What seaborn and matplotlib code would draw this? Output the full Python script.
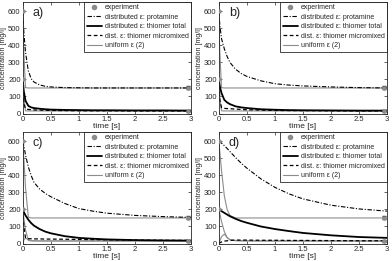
import numpy as np
import pandas as pd
import matplotlib
matplotlib.use("Agg")
import matplotlib.pyplot as plt
from matplotlib.lines import Line2D
import seaborn as sns

# common time grid [s]
t = [0, 0.02, 0.05, 0.1, 0.15, 0.2, 0.3, 0.4, 0.5, 0.75, 1.0, 1.25, 1.5, 2.0, 2.5, 3.0]

# panel a)
prot_a = [600, 480, 360, 250, 205, 185, 168, 160, 156, 152, 151, 150, 150, 150, 150, 150]
total_a = [200, 130, 75, 45, 36, 32, 28, 25, 23, 21, 20, 19, 19, 18, 18, 17]
micro_a = [200, 60, 28, 24, 22, 21, 20, 19, 18, 17, 16, 16, 16, 15, 15, 15]
unif_p_a = [600, 360, 152, 150, 150, 150, 150, 150, 150, 150, 150, 150, 150, 150, 150, 150]
unif_t_a = [200, 90, 16, 15, 15, 15, 15, 15, 15, 15, 15, 15, 15, 15, 15, 15]

# panel b)
prot_b = [600, 520, 440, 380, 335, 300, 260, 235, 218, 192, 175, 167, 162, 156, 152, 150]
total_b = [200, 160, 120, 80, 65, 55, 42, 36, 32, 25, 22, 20, 19, 18, 17, 17]
micro_b = [200, 80, 35, 30, 29, 28, 26, 24, 22, 20, 18, 17, 17, 16, 15, 15]
unif_p_b = unif_p_a
unif_t_b = unif_t_a

# panel c)
prot_c = [600, 575, 520, 450, 400, 360, 320, 295, 275, 235, 205, 190, 178, 165, 158, 153]
total_c = [200, 185, 165, 140, 120, 105, 85, 70, 60, 43, 33, 28, 24, 20, 18, 17]
micro_c = [200, 100, 32, 28, 28, 27, 27, 26, 26, 25, 24, 23, 22, 20, 19, 18]
unif_p_c = [600, 500, 330, 155, 150, 150, 150, 150, 150, 150, 150, 150, 150, 150, 150, 150]
unif_t_c = [200, 150, 80, 18, 15, 15, 15, 15, 15, 15, 15, 15, 15, 15, 15, 15]
unif_b_c = [0, 20, 32, 22, 18, 16, 15, 15, 15, 15, 15, 15, 15, 15, 15, 15]

# panel d)
prot_d = [600, 597, 590, 575, 558, 540, 505, 472, 443, 380, 330, 292, 262, 225, 203, 190]
total_d = [200, 196, 190, 180, 170, 160, 145, 132, 122, 100, 85, 73, 62, 48, 38, 33]
micro_d = [0, 4, 9, 14, 16, 18, 20, 20, 20, 19, 19, 18, 18, 17, 16, 16]
unif_p_d = [600, 540, 430, 280, 200, 165, 150, 150, 150, 150, 150, 150, 150, 150, 150, 150]
unif_t_d = [200, 175, 130, 70, 35, 22, 16, 15, 15, 15, 15, 15, 15, 15, 15, 15]
unif_b_d = [0, 15, 40, 55, 35, 22, 18, 17, 16, 15, 15, 15, 15, 15, 15, 15]

# experiment
exp_t0 = [0, 0]
exp_c0 = [600, 200]
exp_t1 = [2.95, 2.95]
exp_c1 = [150, 15]
exp_err = [9, 6]

panels = [
    ("a)", prot_a, total_a, micro_a, [unif_p_a, unif_t_a]),
    ("b)", prot_b, total_b, micro_b, [unif_p_b, unif_t_b]),
    ("c)", prot_c, total_c, micro_c, [unif_p_c, unif_t_c, unif_b_c]),
    ("d)", prot_d, total_d, micro_d, [unif_p_d, unif_t_d, unif_b_d]),
]

sns.set_style("ticks")
plt.rcParams['font.family'] = ['Liberation Sans', 'DejaVu Sans']
plt.rcParams['xtick.direction'] = 'in'
plt.rcParams['ytick.direction'] = 'in'
plt.rcParams['xtick.top'] = True
plt.rcParams['ytick.right'] = True

fig = plt.figure(figsize=(3.92, 2.61), dpi=100)

W, H = 392, 261
boxes = [(22.7, 2), (218.7, 2), (22.7, 132), (218.7, 132)]
aw, ah = 168.5, 111.5

gray = "#8c8c8c"
dashdot = (0, (4, 1.5, 1, 1.5))

for (lab, prot, total, micro, unifs), (x0, y0) in zip(panels, boxes):
    ax = fig.add_axes([x0 / W, 1 - (y0 + ah) / H, aw / W, ah / H])
    for u in unifs:
        sns.lineplot(x=t, y=u, ax=ax, color=gray, lw=0.8)
    sns.lineplot(x=t, y=micro, ax=ax, color="black", lw=0.9, linestyle=(0, (3, 2)))
    sns.lineplot(x=t, y=total, ax=ax, color="black", lw=1.3)
    sns.lineplot(x=t, y=prot, ax=ax, color="black", lw=0.8, linestyle=dashdot)
    sns.scatterplot(x=exp_t0, y=exp_c0, ax=ax, color=gray, s=8, edgecolor=gray, zorder=5)
    ax.errorbar(exp_t1, exp_c1, yerr=exp_err, fmt="o", ms=2.2, color=gray, mec=gray,
                ecolor="#333333", elinewidth=0.8, capsize=1.5, zorder=5)
    ax.set_xlim(0, 3)
    ax.set_ylim(0, 655)
    ax.set_xticks([0, 0.5, 1, 1.5, 2, 2.5, 3])
    ax.set_xticklabels(["0", "0.5", "1", "1.5", "2", "2.5", "3"])
    ax.set_yticks([0, 100, 200, 300, 400, 500, 600])
    ax.tick_params(labelsize=5.5, length=2, width=0.5, pad=1.5)
    for s in ax.spines.values():
        s.set_linewidth(0.6)
        s.set_visible(True)
    ax.set_xlabel("time [s]", fontsize=6, labelpad=0)
    ax.set_ylabel("concentration [mg/l]", fontsize=5, labelpad=1)
    ax.text(0.06, 0.9, lab, transform=ax.transAxes, fontsize=9, va="center", ha="left")

    handles = [
        Line2D([], [], marker="o", ls="none", color=gray, ms=3),
        Line2D([], [], color="black", lw=0.8, linestyle=dashdot),
        Line2D([], [], color="black", lw=1.3),
        Line2D([], [], color="black", lw=0.9, linestyle=(0, (3, 2))),
        Line2D([], [], color=gray, lw=0.8),
    ]
    labels = ["experiment", "distributed \u03b5: protamine", "distributed \u03b5: thiomer total",
              "dist. \u03b5: thiomer micromixed", "uniform \u03b5 (2)"]
    leg = ax.legend(handles, labels, loc="upper right", fontsize=5, frameon=True,
                    fancybox=False, framealpha=1, edgecolor="black", borderaxespad=0,
                    handlelength=2.2, handletextpad=0.4, labelspacing=0.35, borderpad=0.35)
    leg.get_frame().set_linewidth(0.5)

fig.savefig("out.png", dpi=100)
